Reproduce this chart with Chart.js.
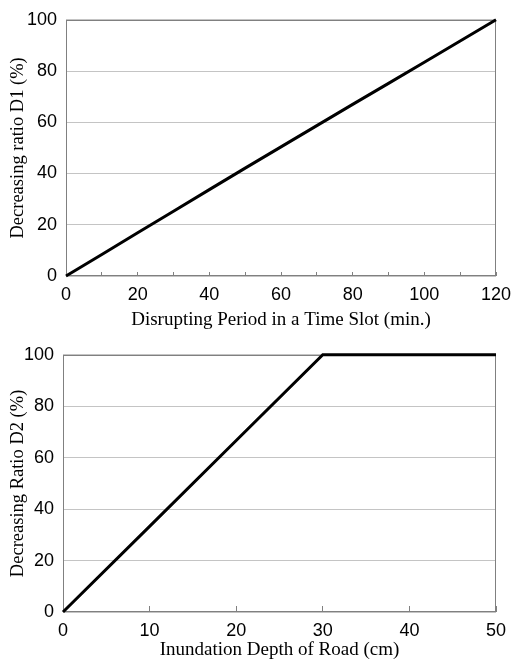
<!DOCTYPE html>
<html>
<head>
<meta charset="utf-8">
<script src="https://cdn.jsdelivr.net/npm/chart.js@4.4.1/dist/chart.umd.min.js"></script>
<style>
  html, body { margin: 0; padding: 0; background: #fff; }
  .panel { position: absolute; left: 0; width: 515px; }
  #p1 { top: 0; height: 335px; }
  #p2 { top: 335px; height: 326px; }
  canvas { display: block; }
</style>
</head>
<body>
<div class="panel" id="p1"><canvas id="c1"></canvas></div>
<div class="panel" id="p2"><canvas id="c2"></canvas></div>
<script>
// D1: decrease ratio versus disrupting period within a time slot
const periodMin = [0, 10, 20, 30, 40, 50, 60, 70, 80, 90, 100, 110, 120];
const ratioD1   = [0, 8.4, 16.9, 25.3, 33.7, 42.1, 50.4, 58.7, 67, 75.2, 83.4, 91.7, 100];

// D2: decrease ratio versus inundation depth of the road
const depthCm = [0, 10, 20, 30, 40, 50];
const ratioD2 = [0, 33.3, 66.7, 100, 100, 100];

const percentTicks = [0, 20, 40, 60, 80, 100];

const AXIS_GREY = '#808080';
const GRID_GREY = '#c4c4c4';
const TICK_FONT = { family: '"Liberation Sans", Arial, sans-serif', size: 18 };
const TITLE_FONT_X = { family: '"Liberation Serif", "Times New Roman", serif', size: 19, lineHeight: 1.0 };
const TITLE_FONT_Y = { family: '"Liberation Serif", "Times New Roman", serif', size: 18.5, lineHeight: 1.2 };

// draws the grey box round the plot area
const framePlugin = {
  id: 'frame',
  beforeDatasetsDraw(chart) {
    const a = chart.chartArea;
    const ctx = chart.ctx;
    ctx.save();
    ctx.strokeStyle = AXIS_GREY;
    ctx.lineWidth = 1;
    const l = Math.round(a.left) + 0.5, t = Math.round(a.top) + 0.5;
    const r = Math.round(a.right) - 0.5, b = Math.round(a.bottom) - 0.5;
    ctx.strokeRect(l, t, r - l, b - t);
    ctx.restore();
  }
};

function makeChart(id, xs, ys, cfg) {
  return new Chart(document.getElementById(id), {
    type: 'line',
    data: {
      datasets: [{
        data: xs.map((x, i) => ({ x, y: ys[i] })),
        borderColor: '#000',
        borderWidth: 3,
        pointRadius: 0,
        tension: 0,
        clip: 4
      }]
    },
    options: {
      responsive: true,
      maintainAspectRatio: false,
      devicePixelRatio: 1,
      animation: false,
      events: [],
      layout: { padding: { top: 17, right: 19, left: 0, bottom: 0 } },
      plugins: { legend: { display: false }, tooltip: { enabled: false } },
      scales: {
        x: {
          type: 'linear',
          min: 0,
          max: cfg.xMax,
          afterFit(s) {
            s.height = cfg.xHeight;
            // the end labels fit inside the layout padding already
            s.paddingLeft = 0;
            s.paddingRight = 0;
          },
          afterBuildTicks(s) { s.ticks = cfg.xTicks.map(v => ({ value: v })); },
          border: { display: false },
          grid: {
            drawOnChartArea: false,
            drawTicks: true,
            tickLength: -cfg.tickLen,
            color: AXIS_GREY,
            lineWidth: 1
          },
          ticks: {
            autoSkip: false,
            maxRotation: 0,
            padding: 8 + cfg.tickLen,
            color: '#000',
            font: TICK_FONT,
            callback: v => (cfg.xLabels.includes(v) ? String(v) : '')
          },
          title: {
            display: true,
            text: cfg.xTitle,
            color: '#000',
            font: TITLE_FONT_X,
            padding: { top: 0, bottom: cfg.xTitlePad }
          }
        },
        y: {
          min: 0,
          max: 100,
          afterFit(s) { s.width = cfg.yWidth; },
          afterBuildTicks(s) { s.ticks = percentTicks.map(v => ({ value: v })); },
          border: { display: false },
          grid: { drawTicks: false, color: GRID_GREY, lineWidth: 1 },
          ticks: { padding: 9, color: '#000', font: TICK_FONT },
          title: {
            display: true,
            text: cfg.yTitle,
            color: '#000',
            font: TITLE_FONT_Y,
            padding: { top: 7, bottom: 0 }
          }
        }
      }
    },
    plugins: [framePlugin]
  });
}

makeChart('c1', periodMin, ratioD1, {
  xMax: 120,
  xTicks: [0, 10, 20, 30, 40, 50, 60, 70, 80, 90, 100, 110, 120],
  xLabels: [0, 20, 40, 60, 80, 100, 120],
  xTitle: 'Disrupting Period in a Time Slot (min.)',
  yTitle: 'Decreasing ratio D1 (%)',
  xHeight: 59,
  xTitlePad: 5,
  yWidth: 66,
  tickLen: 4
});

makeChart('c2', depthCm, ratioD2, {
  xMax: 50,
  xTicks: [0, 10, 20, 30, 40, 50],
  xLabels: [0, 10, 20, 30, 40, 50],
  xTitle: 'Inundation Depth of Road (cm)',
  yTitle: 'Decreasing Ratio D2 (%)',
  xHeight: 49,
  xTitlePad: 1,
  yWidth: 63,
  tickLen: 6
});
</script>
</body>
</html>
